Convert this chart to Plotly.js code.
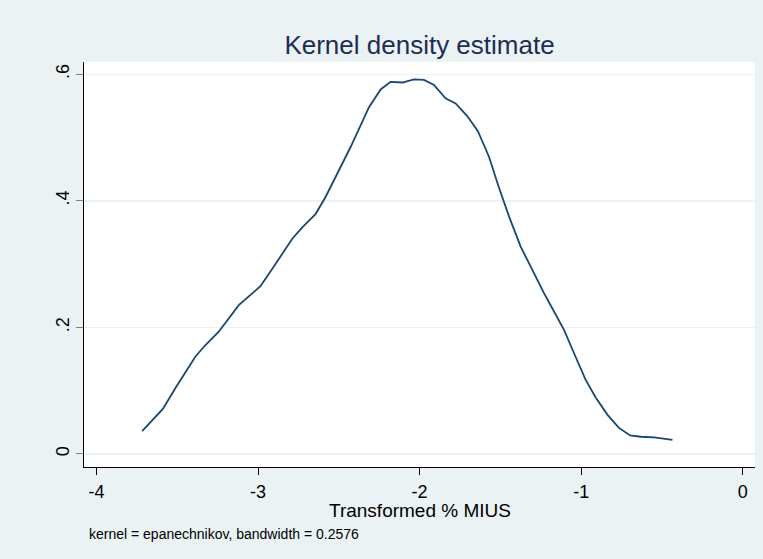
<!DOCTYPE html>
<html>
<head>
<meta charset="utf-8">
<script src="https://cdn.plot.ly/plotly-3.0.1.min.js"></script>
<style>html,body{margin:0;padding:0;background:#eaf2f3;}#chart{width:763px;height:559px;}</style>
</head>
<body>
<div id="chart"></div>
<script>
const xValues = [-3.717, -3.589, -3.511, -3.387, -3.325, -3.243, -3.119, -2.985, -2.902, -2.788,
  -2.726, -2.644, -2.582, -2.510, -2.427, -2.313, -2.241, -2.180, -2.107, -2.035,
  -1.973, -1.911, -1.839, -1.777, -1.705, -1.639, -1.571, -1.509, -1.446, -1.375,
  -1.302, -1.230, -1.168, -1.106, -1.044, -0.972, -0.910, -0.838, -0.766, -0.697,
  -0.631, -0.548, -0.435];
const densityValues = [0.036, 0.071, 0.104, 0.154, 0.172, 0.193, 0.235, 0.265, 0.296, 0.340,
  0.358, 0.379, 0.406, 0.443, 0.485, 0.548, 0.576, 0.588, 0.587, 0.592,
  0.591, 0.583, 0.562, 0.554, 0.534, 0.510, 0.470, 0.421, 0.375, 0.328,
  0.290, 0.254, 0.225, 0.196, 0.159, 0.117, 0.089, 0.062, 0.041, 0.029,
  0.027, 0.026, 0.022];
const xTickVals = [-4, -3, -2, -1, 0];
const xTickText = ['-4', '-3', '-2', '-1', '0'];
const yTickVals = [0, 0.2, 0.4, 0.6];
const yTickText = ['0', '.2', '.4', '.6'];

const FONT = '"Liberation Sans", Arial, sans-serif';

const trace = {
  x: xValues, y: densityValues, type: 'scatter', mode: 'lines',
  line: {color: '#1a476f', width: 1.8}, hoverinfo: 'skip'
};

const layout = {
  width: 763, height: 559,
  paper_bgcolor: '#eaf2f3', plot_bgcolor: '#ffffff',
  margin: {l: 84, r: 8, t: 62, b: 92},
  showlegend: false,
  font: {family: FONT, color: '#000000'},
  title: {text: 'Kernel density estimate', x: 0.5, xref: 'paper', xanchor: 'center',
    y: 1, yref: 'paper', yanchor: 'bottom', pad: {b: 8},
    font: {family: FONT, size: 26, color: '#1e2d53'}},
  xaxis: {
    range: [-4.077, 0.076], tickvals: xTickVals, ticktext: xTickText,
    ticks: 'outside', ticklen: 7, tickwidth: 1, tickcolor: '#000000',
    ticklabelstandoff: 1,
    showgrid: false, zeroline: false, showline: true, linecolor: '#000000', linewidth: 1.3,
    tickfont: {family: FONT, size: 18, color: '#000000'}
  },
  yaxis: {
    range: [-0.0208, 0.6194], tickvals: yTickVals, ticktext: yTickText,
    ticks: 'outside', ticklen: 7, tickwidth: 1, tickcolor: '#7f7f7f',
    tickangle: -90,
    showgrid: true, gridcolor: '#eaf2f3', gridwidth: 1.5,
    zeroline: false, showline: true, linecolor: '#000000', linewidth: 1.3,
    tickfont: {family: FONT, size: 18, color: '#000000'}
  },
  annotations: [{
    text: 'Transformed % MIUS', xref: 'paper', yref: 'paper',
    x: 0.5, y: -0.107, xanchor: 'center', yanchor: 'middle', showarrow: false,
    font: {family: FONT, size: 19, color: '#000000'}
  }, {
    text: 'kernel = epanechnikov, bandwidth = 0.2576', xref: 'paper', yref: 'paper',
    x: 0.004, y: -0.166, xanchor: 'left', yanchor: 'middle', showarrow: false,
    font: {family: FONT, size: 14, color: '#000000'}
  }]
};

Plotly.newPlot('chart', [trace], layout, {displayModeBar: false, staticPlot: true});
</script>
</body>
</html>
